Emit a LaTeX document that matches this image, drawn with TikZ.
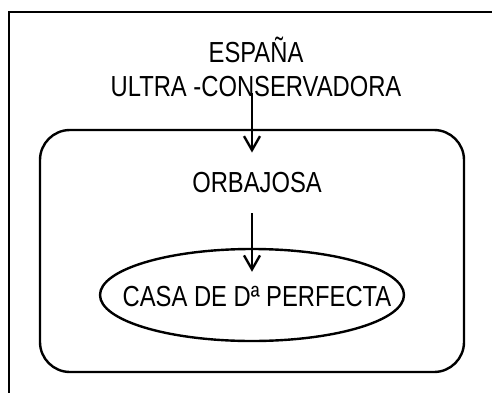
\documentclass[tikz,border=0pt]{standalone}
\usepackage{fontspec}
\setmainfont{Liberation Sans}[FakeStretch=0.82]
\usetikzlibrary{arrows.meta,shapes.geometric}

\begin{document}
\begin{tikzpicture}[x=0.5pt, y=0.5pt, line width=1.2pt,
    lbl/.style={inner sep=0pt, align=center, font=\fontsize{14.5}{17}\selectfont},
    arr/.style={-{Straight Barb[length=7pt,width=8pt]}}]
                    \useasboundingbox (0,0) rectangle (492,392);
                    \clip (0,0) rectangle (492,392);
                    \draw (9,380) rectangle (520,-20);
                    \draw[rounded corners=15pt] (40,20) rectangle (464,262);
                    \node[lbl, anchor=south] (espana) at (256,294) {ESPAÑA\\ULTRA -CONSERVADORA};
                    \node[lbl, anchor=base] (orbajosa) at (257,200) {ORBAJOSA};
                    \node[ellipse, draw, inner sep=0pt, minimum width=152pt, minimum height=46pt] (casa) at (252,97) {};
                    \node[lbl] (casatxt) at (257,96) {CASA DE Dª PERFECTA};
                    \draw[arr, shorten <=-2.5pt, shorten >=9pt] (espana.south -| casa) -- (orbajosa.north -| casa);
                    \draw[arr, shorten <=10pt, shorten >=-12pt] (orbajosa.south -| casa) -- (casa.north);
                \end{tikzpicture}
\end{document}
